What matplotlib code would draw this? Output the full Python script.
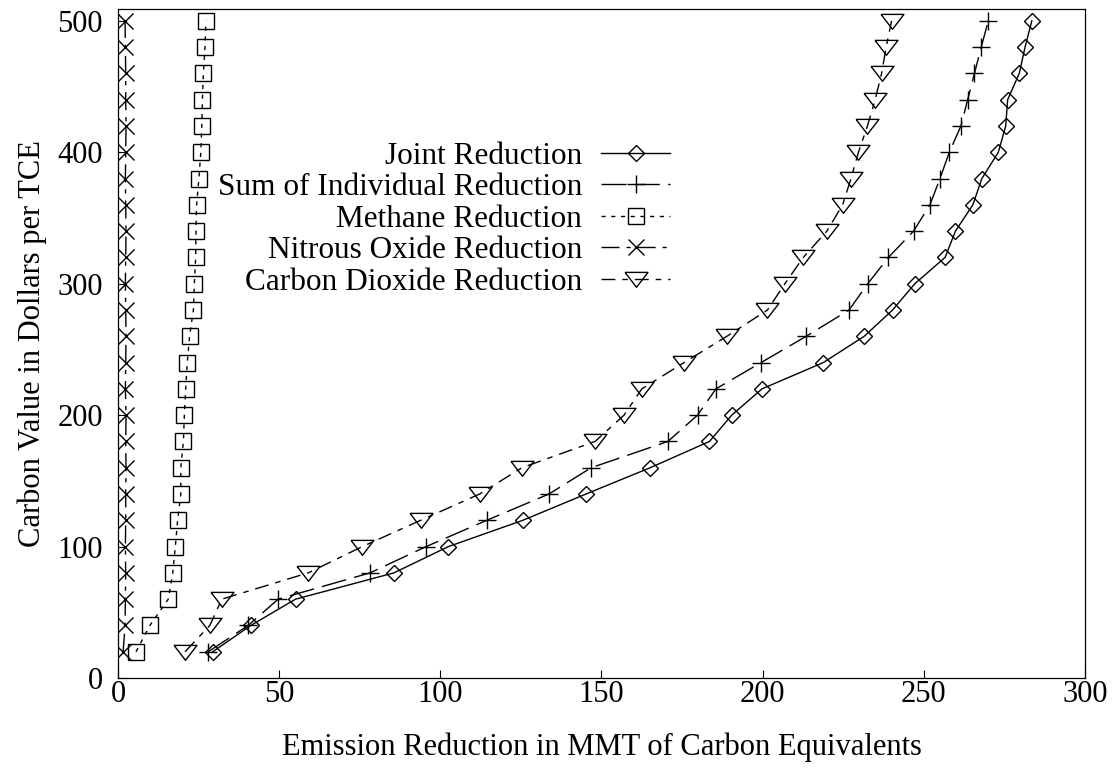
import matplotlib
matplotlib.use("Agg")
import matplotlib.pyplot as plt

plt.rcParams['font.family'] = ['Liberation Serif', 'DejaVu Serif']
plt.rcParams['mathtext.fontset'] = 'stix'

# Carbon value levels (dollars per TCE)
carbon_value = [20, 40, 60, 80, 100, 120, 140, 160, 180, 200, 220, 240, 260,
                280, 300, 320, 340, 360, 380, 400, 420, 440, 460, 480, 500]

# Emission reductions (MMT of carbon equivalents)
joint = [29.4, 41.2, 55.1, 85.6, 102.5, 125.6, 145.2, 165.1, 183.5, 190.4,
         199.8, 218.8, 231.5, 240.3, 247.2, 256.6, 259.8, 265.2, 268.0, 273.1,
         275.4, 276.0, 279.6, 281.4, 283.5]
sum_individual = [28.0, 40.4, 49.7, 78.2, 95.6, 114.4, 133.7, 146.8, 170.6,
                  179.8, 185.5, 199.5, 213.5, 226.8, 232.6, 239.0, 246.8,
                  251.9, 255.0, 257.9, 261.5, 263.6, 265.7, 267.8, 270.0]
methane = [5.6, 9.9, 15.6, 17.0, 17.8, 18.5, 19.5, 19.5, 20.3, 20.6, 21.0,
           21.5, 22.2, 23.4, 23.7, 24.1, 24.2, 24.4, 25.1, 25.7, 26.0, 26.2,
           26.5, 27.0, 27.3]
nitrous = [1.6, 2.2, 2.3, 2.4, 2.3, 2.4, 2.4, 2.5, 2.4, 2.5, 2.3, 2.4, 2.5,
           2.4, 2.3, 2.4, 2.5, 2.4, 2.3, 2.4, 2.5, 2.4, 2.4, 2.3, 2.2]
co2 = [20.8, 28.5, 32.2, 59.0, 75.8, 93.9, 112.2, 125.3, 148.0, 157.0, 162.5,
       175.6, 188.9, 201.5, 206.9, 212.6, 219.9, 224.8, 227.4, 229.7, 232.5,
       234.9, 236.9, 238.3, 240.0]

labels = ["Joint Reduction", "Sum of Individual Reduction", "Methane Reduction",
          "Nitrous Oxide Reduction", "Carbon Dioxide Reduction"]

x_ticks = [0, 50, 100, 150, 200, 250, 300]
y_ticks = [0, 100, 200, 300, 400, 500]

FS = 22

# wide, flat down-pointing triangle
tri_down = [(-1.0, 0.62), (1.0, 0.62), (0.0, -0.68), (-1.0, 0.62)]

fig = plt.figure(figsize=(11.15, 7.78), dpi=100)
ax = fig.add_axes([0.1058, 0.1285, 0.8673, 0.8599])

common = dict(color='black', lw=1.0, mfc='none', mec='black', mew=1.0)
ax.plot(joint, carbon_value, marker='D', ms=8.6, ls='-', label=labels[0], **common)
ax.plot(sum_individual, carbon_value, marker='+', ms=12.5, ls=(0, (18, 6)),
        label=labels[1], **common)
ax.plot(methane, carbon_value, marker='s', ms=12.0, ls=(0, (3, 4)),
        label=labels[2], **common)
ax.plot(nitrous, carbon_value, marker='x', ms=12.0, ls=(0, (13, 5, 3, 5)),
        label=labels[3], **common)
ax.plot(co2, carbon_value, marker=tri_down, ms=16.5, ls=(0, (10, 5, 4, 5)),
        label=labels[4], **common)

ax.set_xlim(0, 300)
ax.set_ylim(0, 509)
ax.set_xticks(x_ticks)
ax.set_yticks(y_ticks)
ax.tick_params(axis='both', direction='in', length=6, width=0.8,
               labelsize=FS, top=False, right=False)
ax.tick_params(axis='y', pad=11)
ax.tick_params(axis='x', pad=1.5)
for s in ax.spines.values():
    s.set_linewidth(0.9)

ax.set_xlabel("Emission Reduction in MMT of Carbon Equivalents", fontsize=FS,
              labelpad=17)
ax.set_ylabel("Carbon Value in Dollars per TCE", fontsize=FS, labelpad=7)

ax.legend(loc='upper right', bbox_to_anchor=(0.571, 0.8015), frameon=False,
          markerfirst=False, numpoints=1, fontsize=22.5, handlelength=2.2,
          handletextpad=0.62, labelspacing=0.08, borderpad=0, borderaxespad=0)

fig.savefig("out.png", dpi=100)
